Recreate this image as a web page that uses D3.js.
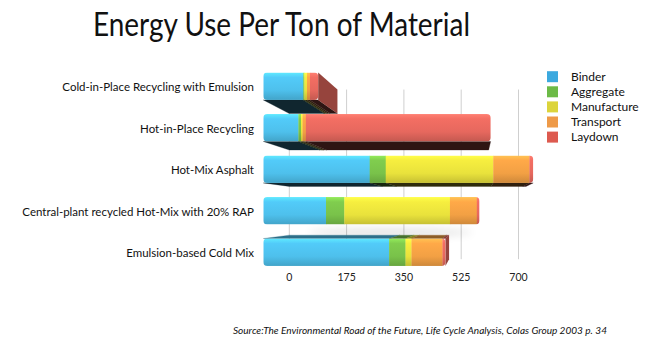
<!DOCTYPE html>
<html><head><meta charset="utf-8">
<script src="https://cdn.jsdelivr.net/npm/d3@7"></script>
<style>html,body{margin:0;padding:0;background:#fff}svg{display:block}</style>
</head><body>
<script>
// ---- data ----
const categories = [
  "Cold-in-Place Recycling with Emulsion",
  "Hot-in-Place Recycling",
  "Hot-Mix Asphalt",
  "Central-plant recycled Hot-Mix with 20% RAP",
  "Emulsion-based Cold Mix"
];
const seriesNames = ["Binder","Aggregate","Manufacture","Transport","Laydown"];
const binder      = [107,  94, 285, 168, 337];
const aggregate   = [  3,   7,  43,  49,  44];
const manufacture = [  7,   4, 288, 283,  16];
const transport   = [  8,   9,  97,  72,  83];
const laydown     = [ 22, 495,  10,   7,   8];
const tickValues  = [0, 175, 350, 525, 700];
const title = "Energy Use Per Ton of Material";
const source = "Source:The Environmental Road of the Future, Life Cycle Analysis, Colas Group 2003 p. 34";

// ---- styles ----
const barColors    = ["#4ec0ec","#79c24a","#e9e23c","#f2a044","#e6685e"];
const legendColors = ["#3ca9df","#6cba47","#dcd43b","#ee9a48","#dd5a4f"];
const W = 648, H = 356;

const rows = categories.map((c,i)=>({
  cat:c, Binder:binder[i], Aggregate:aggregate[i], Manufacture:manufacture[i],
  Transport:transport[i], Laydown:laydown[i]
}));
const stacked = d3.stack().keys(seriesNames)(rows);

const svg = d3.select("body").append("svg").attr("width",W).attr("height",H);
svg.append("rect").attr("width",W).attr("height",H).attr("fill","#fff");
const defs = svg.append("defs");

// perspective: back plane (grid) and front faces of bars
const cx = 475, cy = 211, k = 1.14;
const xb = d3.scaleLinear().domain([0,700]).range([289.3,518.5]);
const xf = d3.scaleLinear().domain([0,700]).range([cx+(xb(0)-cx)*k, cx+(xb(700)-cx)*k]);
const yf = d3.scaleBand().domain(categories).range([65.5,273]).paddingInner(0.34).paddingOuter(0.17);
const bw = yf.bandwidth();
const backY = y => cy + (y-cy)/k;

// gradients for front faces
barColors.forEach((c,j)=>{
  const g = defs.append("linearGradient").attr("id","g"+j).attr("x1",0).attr("y1",0).attr("x2",0).attr("y2",1);
  const base = d3.color(c);
  g.append("stop").attr("offset","0%").attr("stop-color",base.brighter(0.55).formatHex());
  g.append("stop").attr("offset","18%").attr("stop-color",base.brighter(0.15).formatHex());
  g.append("stop").attr("offset","65%").attr("stop-color",c);
  g.append("stop").attr("offset","100%").attr("stop-color",base.darker(0.45).formatHex());
});
const blur = defs.append("filter").attr("id","blur").attr("x","-50%").attr("y","-200%").attr("width","200%").attr("height","500%");
blur.append("feGaussianBlur").attr("stdDeviation",4);

// title
svg.append("text").attr("x",93).attr("y",36)
  .attr("font-family","Lato, 'Open Sans', sans-serif").attr("font-size",33)
  .attr("textLength",377).attr("lengthAdjust","spacingAndGlyphs")
  .attr("fill","#111").text(title);

// grid
const gTop = backY(yf(categories[0])), gBot = backY(yf(categories[categories.length-1])+bw);
svg.append("g").selectAll("line").data(tickValues).join("line")
  .attr("x1",d=>xb(d)).attr("x2",d=>xb(d)).attr("y1",gTop).attr("y2",gBot)
  .attr("stroke","#cfcfcf").attr("stroke-width",1);

// axis labels
svg.append("g").selectAll("text").data(tickValues).join("text")
  .attr("x",d=>xb(d)).attr("y",277).attr("dy","0.35em").attr("text-anchor","middle")
  .attr("font-family","Lato, sans-serif").attr("font-size",10.5).attr("fill","#222")
  .text(d=>d);

// soft shadow beneath RAP bar
{
  const c = categories[3];
  const y = yf(c)+bw;
  svg.append("ellipse").attr("cx",(xf(120)+xf(560))/2).attr("cy",y+8)
    .attr("rx",(xf(560)-xf(120))/2).attr("ry",3.5)
    .attr("fill","#000").attr("opacity",0.13).attr("filter","url(#blur)");
}

// side faces (drawn first)
const sides = svg.append("g");
const fronts = svg.append("g");
categories.forEach((c,i)=>{
  const yt = yf(c), yb = yt+bw;
  const byt = backY(yt), byb = backY(yb);
  stacked.forEach((s,j)=>{
    const v0 = s[i][0], v1 = s[i][1];
    if (v1-v0 <= 0) return;
    const f0 = xf(v0), f1 = xf(v1), b0 = xb(v0), b1 = xb(v1);
    if (yb < cy) {
      sides.append("polygon")
        .attr("points",[[f0,yb],[f1,yb],[b1,byb],[b0,byb]].map(p=>p.join(",")).join(" "))
        .attr("fill",d3.interpolateRgb(barColors[j],"#000")(0.8)).attr("stroke",d3.interpolateRgb(barColors[j],"#000")(0.8)).attr("stroke-width",0.3);
    }
    if (yt > cy) {
      sides.append("polygon")
        .attr("points",[[f0,yt],[f1,yt],[b1,byt],[b0,byt]].map(p=>p.join(",")).join(" "))
        .attr("fill",d3.interpolateRgb(barColors[j],"#000")(0.42)).attr("stroke",d3.interpolateRgb(barColors[j],"#000")(0.42)).attr("stroke-width",0.3);
    }
  });
  // right end face
  const total = stacked[stacked.length-1][i][1];
  const fe = xf(total), be = xb(total);
  if (fe < cx) {
    let last = 0; stacked.forEach((s,j)=>{ if (s[i][1]-s[i][0]>0) last=j; });
    sides.append("polygon")
      .attr("points",[[fe,yt],[be,byt],[be,byb],[fe,yb]].map(p=>p.join(",")).join(" "))
      .attr("fill",d3.interpolateRgb(barColors[last],"#000")(0.35));
  }
  // front face with rounded outline
  const clipId = "clip"+i;
  defs.append("clipPath").attr("id",clipId).append("rect")
    .attr("x",xf(0)).attr("y",yt).attr("width",fe-xf(0)).attr("height",bw).attr("rx",4).attr("ry",4);
  const gf = fronts.append("g").attr("clip-path",`url(#${clipId})`);
  stacked.forEach((s,j)=>{
    const v0 = s[i][0], v1 = s[i][1];
    if (v1-v0 <= 0) return;
    gf.append("rect").attr("x",xf(v0)).attr("y",yt).attr("width",xf(v1)-xf(v0)+0.3).attr("height",bw)
      .attr("fill",`url(#g${j})`);
  });
});

// category labels
const labels = svg.append("g").selectAll("text").data(categories).join("text")
  .attr("x",254).attr("y",d=>yf(d)+bw/2+1).attr("dy","0.35em").attr("text-anchor","end")
  .attr("font-family","Lato, sans-serif").attr("font-size",11).attr("fill","#111").text(d=>d);
// fit font so longest label spans like the reference
const longest = labels.filter((d,i)=>i===3).node().getComputedTextLength();
labels.attr("font-size", 11*232/longest);

// legend
const leg = svg.append("g");
seriesNames.forEach((n,j)=>{
  const y = 76.7 + j*15.1;
  leg.append("rect").attr("x",547).attr("y",y-5.5).attr("width",11).attr("height",11).attr("fill",legendColors[j]);
  leg.append("text").attr("x",571).attr("y",y).attr("dy","0.35em")
    .attr("font-family","Lato, sans-serif").attr("font-size",12).attr("fill","#111").text(n);
});

// source
svg.append("text").attr("x",233).attr("y",331).attr("dy","0.35em")
  .attr("font-family","Lato, sans-serif").attr("font-style","italic").attr("font-size",9)
  .attr("textLength",374).attr("lengthAdjust","spacingAndGlyphs")
  .attr("fill","#111").text(source);
</script>
</body></html>
